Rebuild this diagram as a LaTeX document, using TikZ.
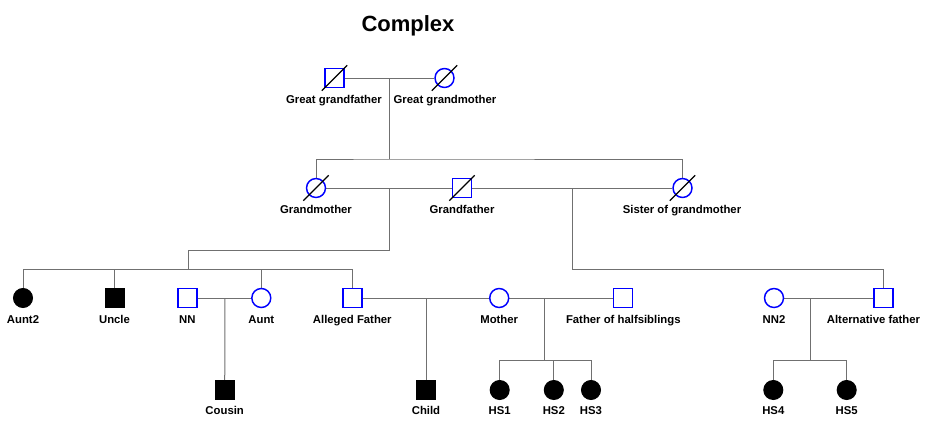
\documentclass[tikz,border=0pt]{standalone}
\usepackage{fontspec}
\setmainfont{Liberation Sans}
\usepackage{xcolor}
\definecolor{pblue}{HTML}{0000FF}
\definecolor{lineg}{HTML}{707070}
\usetikzlibrary{calc, backgrounds}

\begin{document}
\begin{tikzpicture}[
  x=0.75pt, y=-0.75pt,
  font=\bfseries\fontsize{8.5}{10}\selectfont,
  male/.style={draw=pblue, fill=white, rectangle, minimum size=14.25pt, inner sep=0pt, line width=1.1pt},
  female/.style={male, circle},
  amale/.style={draw, fill=black, rectangle, minimum size=14.25pt, inner sep=0pt, line width=0.75pt},
  afemale/.style={amale, circle},
  lbl/.style={anchor=base, inner sep=0pt},
  conn/.style={draw=lineg, line width=0.75pt},
  dec/.style={line width=0.9pt, black}
]
\useasboundingbox (0,0) rectangle (933,421);
\node[anchor=base, font=\bfseries\fontsize{16.5}{20}\selectfont] (title) at (408,31.7) {Complex};

\node[male]   (ggf)  at (334.5,78) {};
\node[female] (ggm)  at (444.5,78) {};
\node[female] (gm)   at (316,188) {};
\node[male]   (gf)   at (462,188) {};
\node[female] (sgm)  at (682.5,188) {};
\node[afemale] (aunt2) at (23,298) {};
\node[amale]  (uncle) at (114.7,298) {};
\node[male]   (nn)    at (187.3,298) {};
\node[female] (aunt)  at (261.3,298) {};
\node[male]   (af)    at (352.7,298) {};
\node[female] (mother) at (499.2,298) {};
\node[male]   (foh)   at (622.8,298) {};
\node[female] (nn2)   at (774,298) {};
\node[male]   (altf)  at (883.5,298) {};
\node[amale]  (cousin) at (224.7,390) {};
\node[amale]  (child) at (426,390) {};
\node[afemale] (hs1)  at (499.7,390) {};
\node[afemale] (hs2)  at (553.8,390) {};
\node[afemale] (hs3)  at (591,390) {};
\node[afemale] (hs4)  at (773.3,390) {};
\node[afemale] (hs5)  at (846.7,390) {};

\node[lbl] (ggf-l)   at (334,103.5) {Great grandfather};
\node[lbl] (ggm-l)   at (445,103.5) {Great grandmother};
\node[lbl] (gm-l)    at (316,213.3) {Grandmother};
\node[lbl] (gf-l)    at (462,213.3) {Grandfather};
\node[lbl] (sgm-l)   at (682,213.3) {Sister of grandmother};
\node[lbl] (aunt2-l) at (23,323.3) {Aunt2};
\node[lbl] (uncle-l) at (114.5,323.3) {Uncle};
\node[lbl] (nn-l)    at (187.3,323.3) {NN};
\node[lbl] (aunt-l)  at (261.3,323.3) {Aunt};
\node[lbl] (af-l)    at (352.3,323.3) {Alleged Father};
\node[lbl] (mother-l) at (499.2,323.3) {Mother};
\node[lbl] (foh-l)   at (623.3,323.3) {Father of halfsiblings};
\node[lbl] (nn2-l)   at (774,323.3) {NN2};
\node[lbl] (altf-l)  at (873.5,323.3) {Alternative father};
\node[lbl] (cousin-l) at (224.7,414.3) {Cousin};
\node[lbl] (child-l) at (426,414.3) {Child};
\node[lbl] (hs1-l)   at (499.7,414.3) {HS1};
\node[lbl] (hs2-l)   at (553.8,414.3) {HS2};
\node[lbl] (hs3-l)   at (591,414.3) {HS3};
\node[lbl] (hs4-l)   at (773.3,414.3) {HS4};
\node[lbl] (hs5-l)   at (846.7,414.3) {HS5};

\coordinate (ggpair) at (389.5,78);
\coordinate (ggsib)  at (389.5,159);
\coordinate (gpair)  at (389.3,188);
\coordinate (gbend)  at (188.3,250.7);
\coordinate (gsib)   at (188.3,269.3);
\coordinate (spair)  at (572.3,188);
\coordinate (ssib)   at (572.3,269.3);
\coordinate (nnpair) at (225,298);
\coordinate (afpair) at (426,298);
\coordinate (fohpair) at (544.3,298);
\coordinate (hssib)  at (544.3,360.7);
\coordinate (altpair) at (810,298);
\coordinate (altsib) at (810,360.7);

\begin{scope}[on background layer]
\draw[conn] (ggf) -- (ggm);
\draw[conn] (ggpair) -- (ggsib);
\draw[conn] (gm.north) |- (ggsib) -| (sgm.north);
\draw[conn] (gm) -- (gf);
\draw[conn] (gf) -- (sgm);
\draw[conn] (gpair) |- (gbend) -- (gsib);
\draw[conn] (aunt2.north) |- (gsib) -| (af.north);
\draw[conn] (uncle.north) -- (uncle.north |- gsib);
\draw[conn] (aunt.north) -- (aunt.north |- gsib);
\draw[conn] (spair) -- (ssib) -| (altf.north);
\draw[conn] (nn) -- (aunt);
\draw[conn] (nnpair) -- (cousin);
\draw[conn] (af) -- (mother);
\draw[conn] (mother) -- (foh);
\draw[conn] (afpair) -- (child);
\draw[conn] (fohpair) -- (hssib);
\draw[conn] (hs1.north) |- (hssib) -| (hs3.north);
\draw[conn] (hs2.north) -- (hs2.north |- hssib);
\draw[conn] (nn2) -- (altf);
\draw[conn] (altpair) -- (altsib);
\draw[conn] (hs4.north) |- (altsib) -| (hs5.north);
\end{scope}

\draw[dec] (ggf.center) ++(-12.7,12.7) -- ++(25.4,-25.4);
\draw[dec] (ggm.center) ++(-12.7,12.7) -- ++(25.4,-25.4);
\draw[dec] (gm.center) ++(-12.7,12.7) -- ++(25.4,-25.4);
\draw[dec] (gf.center) ++(-12.7,12.7) -- ++(25.4,-25.4);
\draw[dec] (sgm.center) ++(-12.7,12.7) -- ++(25.4,-25.4);
\end{tikzpicture}
\end{document}
